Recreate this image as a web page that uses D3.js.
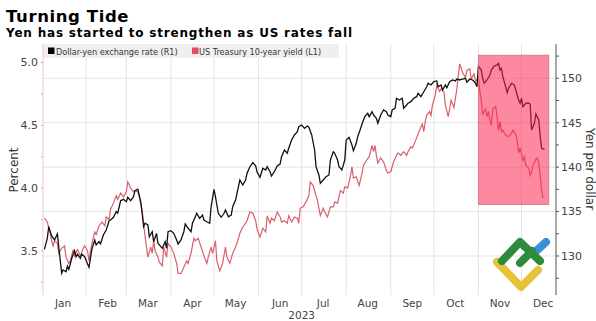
<!DOCTYPE html>
<html>
<head>
<meta charset="utf-8">
<script src="https://cdn.jsdelivr.net/npm/d3@7"></script>
<style>
  body { margin: 0; background: #fff; }
  svg text { font-family: "DejaVu Sans", sans-serif; }
</style>
</head>
<body>
<div id="chart"></div>
<script>
// day of year (0 = Jan 1, 2023) and values
var usdDays = [2,4,5,7,9,11,12,14,15,17,18,19,21,23,24,25,27,28,30,32,33,35,37,38,40,41,43,45,47,48,50,52,53,55,57,59,60,62,64,65,67,69,70,71,72,74,75,77,78,80,81,83,84,86,87,88,90,92,94,95,97,99,100,102,104,105,107,108,110,112,113,115,117,118,120,121,123,125,127,128,130,132,133,135,136,138,140,142,143,145,147,149,150,152,154,156,157,159,160,162,164,166,167,169,171,172,174,176,178,179,181,183,185,186,188,190,191,193,194,196,198,200,201,203,204,206,207,209,211,212,214,216,217,219,220,222,224,225,227,228,230,231,233,234,236,238,240,241,243,244,246,247,249,251,252,254,255,257,259,261,262,264,266,268,269,271,273,275,276,278,279,281,282,284,286,288,289,291,293,295,296,298,300,302,303,304,306,307,308,310,312,313,315,317,318,319,320,321,323,324,325,327,329,330,332,333,334,335,337,339,340,341,343,344,346,347,348,350];
var usdValues = [130.75,131.99,133.30,132.25,131.80,132.48,130.98,128.05,128.42,128.23,128.87,128.50,129.74,130.60,129.92,130.19,129.74,130.22,129.92,129.10,128.73,130.75,131.80,131.24,131.61,131.35,132.36,132.93,133.97,134.05,134.36,134.99,134.81,136.22,136.38,136.11,136.61,136.22,136.67,137.35,137.51,136.11,134.81,133.30,133.68,133.49,132.17,132.73,131.61,132.55,131.43,131.05,130.87,131.61,130.87,132.73,132.85,132.55,131.80,131.35,131.80,132.73,133.60,133.12,132.73,133.68,134.42,134.81,134.24,134.61,134.05,133.86,133.68,135.55,137.51,136.67,134.81,134.36,134.81,135.18,134.42,134.61,135.55,136.30,137.06,138.55,137.99,138.55,139.31,140.05,140.52,140.15,139.45,138.86,139.87,139.68,140.05,139.49,139.00,139.49,140.13,140.35,141.18,141.93,141.56,142.12,143.06,143.62,143.99,144.55,144.74,144.37,144.63,144.49,143.62,141.93,140.05,139.12,138.18,138.55,138.93,139.12,140.80,141.74,141.56,140.80,140.05,139.68,140.80,143.06,143.36,142.49,141.85,142.68,143.43,144.35,145.31,145.68,146.06,145.68,146.24,145.87,145.50,144.94,145.87,146.43,146.24,145.87,145.68,146.43,146.62,147.75,147.56,147.75,146.62,146.99,147.19,147.37,147.75,147.93,148.31,147.93,148.49,149.05,149.44,149.25,149.62,149.70,149.05,149.25,148.68,149.25,148.94,149.62,149.81,149.70,149.92,149.81,149.92,150.00,149.55,149.92,149.81,149.44,149.05,151.38,150.93,150.00,149.44,149.81,150.37,150.93,151.38,151.50,151.69,150.93,151.13,150.18,149.05,148.38,148.87,149.44,149.25,148.68,147.56,147.19,147.75,146.80,147.19,147.19,147.11,144.18,144.94,145.98,145.31,143.43,142.12,142.01];

var yldDays = [2,4,5,6,7,8,9,11,12,14,16,17,19,20,22,23,25,27,29,30,32,33,35,37,38,40,42,44,45,47,48,50,52,53,55,57,59,60,62,64,65,67,68,70,71,72,73,74,76,77,78,79,81,82,84,85,87,88,90,92,94,95,97,99,101,102,104,106,107,109,111,113,115,116,118,119,121,122,124,126,128,129,131,133,135,136,138,140,142,143,145,147,149,150,152,154,156,157,159,160,162,164,166,167,169,171,172,174,176,178,179,180,182,184,186,187,189,190,192,194,196,197,199,201,203,204,206,208,210,211,213,215,216,217,219,221,223,224,226,228,230,231,232,233,234,236,238,240,241,243,245,247,248,250,252,254,255,257,258,260,261,263,265,266,267,268,270,271,272,274,275,277,278,280,281,283,285,287,289,290,291,293,295,296,298,299,301,302,304,305,306,307,309,310,311,312,313,314,316,317,318,319,320,321,323,325,326,328,330,331,332,333,335,336,337,339,340,341,342,344,345,346,347,348,349];
var yldValues = [3.76,3.73,3.68,3.64,3.58,3.54,3.58,3.56,3.48,3.52,3.54,3.45,3.40,3.42,3.51,3.46,3.51,3.46,3.52,3.54,3.50,3.42,3.56,3.65,3.63,3.70,3.73,3.70,3.77,3.75,3.83,3.88,3.94,3.91,3.96,3.93,3.97,4.05,4.00,3.97,3.98,3.97,3.93,3.82,3.72,3.62,3.53,3.45,3.53,3.48,3.58,3.50,3.45,3.41,3.38,3.53,3.45,3.56,3.53,3.48,3.40,3.32,3.32,3.37,3.42,3.40,3.48,3.60,3.58,3.60,3.53,3.46,3.40,3.45,3.53,3.48,3.58,3.42,3.34,3.40,3.53,3.45,3.40,3.48,3.53,3.56,3.64,3.69,3.72,3.74,3.81,3.80,3.74,3.67,3.61,3.68,3.65,3.78,3.72,3.76,3.74,3.81,3.77,3.73,3.74,3.72,3.78,3.73,3.77,3.76,3.72,3.84,3.85,3.89,3.94,4.05,4.02,3.98,3.90,3.78,3.84,3.81,3.77,3.85,3.85,3.89,3.88,3.98,3.96,4.01,4.00,4.10,4.17,4.08,4.09,4.02,4.12,4.18,4.22,4.25,4.34,4.29,4.34,4.26,4.20,4.24,4.21,4.14,4.12,4.13,4.21,4.26,4.28,4.26,4.29,4.26,4.29,4.33,4.32,4.37,4.40,4.46,4.51,4.45,4.53,4.58,4.61,4.58,4.66,4.74,4.82,4.77,4.79,4.77,4.66,4.57,4.70,4.64,4.79,4.90,4.99,4.92,4.88,4.94,4.95,4.87,4.91,4.85,4.88,4.77,4.70,4.59,4.63,4.57,4.61,4.54,4.50,4.63,4.65,4.57,4.46,4.53,4.45,4.46,4.42,4.41,4.42,4.46,4.43,4.37,4.28,4.32,4.22,4.25,4.18,4.16,4.10,4.13,4.18,4.23,4.24,4.20,4.10,3.98,3.92];

var monthLabels = ["Jan","Feb","Mar","Apr","May","Jun","Jul","Aug","Sep","Oct","Nov","Dec"];
var leftTicks = [3.5, 4.0, 4.5, 5.0];
var rightTicks = [130, 135, 140, 145, 150];
// shaded period (Nov 1 to ~Dec 10), in yen terms
var shadeDays = [304, 353];
var shadeYen = [135.8, 152.6];

var W = 596, H = 321;
var svg = d3.select("#chart").append("svg")
  .attr("width", W)
  .attr("height", H);

var jan1 = new Date(2023, 0, 1);
function toDate(d){ return d3.timeDay.offset(jan1, d); }

var x = d3.scaleTime()
  .domain([new Date(2023, 0, 2), new Date(2023, 11, 25)])
  .range([43, 556]);
var yL = d3.scaleLinear().domain([3.148, 5.148]).range([295, 44]);
var yR = d3.scaleLinear().domain([125.61, 153.86]).range([295, 44]);

// title
svg.append("text")
  .attr("x", 6).attr("y", 22)
  .style("font-size", "16.5px").style("font-weight", "bold")
  .style("letter-spacing", "0.6px")
  .style("fill", "#000")
  .text("Turning Tide");
svg.append("text")
  .attr("x", 6).attr("y", 37)
  .style("font-size", "12px").style("font-weight", "bold")
  .style("letter-spacing", "0.8px")
  .style("fill", "#000")
  .text("Yen has started to strengthen as US rates fall");

// gridlines
var months = d3.timeMonth.range(new Date(2023, 1, 1), new Date(2023, 11, 2));
svg.append("g").selectAll("line").data(months).join("line")
  .attr("x1", d => x(d)).attr("x2", d => x(d))
  .attr("y1", 44).attr("y2", 295)
  .attr("stroke", "#e4e4e4").attr("stroke-width", 1);
svg.append("g").selectAll("line").data(rightTicks).join("line")
  .attr("x1", 43).attr("x2", 556)
  .attr("y1", d => yR(d)).attr("y2", d => yR(d))
  .attr("stroke", "#e4e4e4").attr("stroke-width", 1);

// legend
svg.append("rect")
  .attr("x", 43).attr("y", 44).attr("width", 296).attr("height", 14)
  .attr("fill", "#efefef");
svg.append("rect").attr("x", 48).attr("y", 47.5).attr("width", 6.5).attr("height", 6.5).attr("fill", "#000");
svg.append("text").attr("x", 56).attr("y", 54.5)
  .style("font-size", "8.1px").style("fill", "#333")
  .text("Dollar-yen exchange rate (R1)");
svg.append("rect").attr("x", 192).attr("y", 47.5).attr("width", 6.5).attr("height", 6.5).attr("fill", "#e0505e");
svg.append("text").attr("x", 199).attr("y", 54.5)
  .style("font-size", "8.1px").style("fill", "#333")
  .text("US Treasury 10-year yield (L1)");

// lines
var yld = yldDays.map((d, i) => ({date: toDate(d), v: yldValues[i]}));
var usd = usdDays.map((d, i) => ({date: toDate(d), v: usdValues[i]}));

svg.append("path").datum(yld)
  .attr("fill", "none").attr("stroke", "#d9606b").attr("stroke-width", 1.2)
  .attr("d", d3.line().x(d => x(d.date)).y(d => yL(d.v)));
svg.append("path").datum(usd)
  .attr("fill", "none").attr("stroke", "#111").attr("stroke-width", 1.3)
  .attr("d", d3.line().x(d => x(d.date)).y(d => yR(d.v)));

// shaded box over the lines
svg.append("rect")
  .attr("x", x(toDate(shadeDays[0])))
  .attr("y", yR(shadeYen[1]))
  .attr("width", x(toDate(shadeDays[1])) - x(toDate(shadeDays[0])))
  .attr("height", yR(shadeYen[0]) - yR(shadeYen[1]))
  .attr("fill", "rgb(250,40,80)").attr("fill-opacity", 0.55)
  .attr("stroke", "#d9707e").attr("stroke-width", 0.8);

// left axis
var left = svg.append("g").attr("transform", "translate(43,0)");
left.append("line").attr("y1", 44).attr("y2", 295).attr("stroke", "#f2c6cb").attr("stroke-width", 1);
left.selectAll(".minor").data(d3.range(3.25, 5.01, 0.25)).join("line")
  .attr("x1", -2).attr("x2", 0)
  .attr("y1", d => yL(d)).attr("y2", d => yL(d))
  .attr("stroke", "#e8a0a8");
left.selectAll("text").data(leftTicks).join("text")
  .attr("x", -5).attr("y", d => yL(d)).attr("dy", "0.35em")
  .attr("text-anchor", "end")
  .style("font-size", "11px").style("fill", "#444")
  .text(d => d.toFixed(1));
svg.append("text")
  .attr("transform", "translate(18,170) rotate(-90)")
  .attr("text-anchor", "middle")
  .style("font-size", "12px").style("fill", "#333")
  .text("Percent");

// right axis
var right = svg.append("g").attr("transform", "translate(556,0)");
right.append("line").attr("y1", 44).attr("y2", 295).attr("stroke", "#555").attr("stroke-width", 1);
right.selectAll(".minor").data(d3.range(127.5, 153, 2.5)).join("line")
  .attr("x1", 0).attr("x2", 3)
  .attr("y1", d => yR(d)).attr("y2", d => yR(d))
  .attr("stroke", "#555");
right.selectAll("text").data(rightTicks).join("text")
  .attr("x", 5).attr("y", d => yR(d)).attr("dy", "0.35em")
  .style("font-size", "11px").style("fill", "#444")
  .text(d => d);
svg.append("text")
  .attr("transform", "translate(586,169) rotate(90)")
  .attr("text-anchor", "middle")
  .style("font-size", "12px").style("fill", "#333")
  .text("Yen per dollar");

// month labels
svg.append("g").selectAll("text").data(monthLabels).join("text")
  .attr("x", (d, i) => x(new Date(2023, i, 16)))
  .attr("y", 307)
  .attr("text-anchor", "middle")
  .style("font-size", "10.5px").style("fill", "#444")
  .text(d => d);
svg.append("text")
  .attr("x", x(new Date(2023, 6, 1))).attr("y", 319)
  .attr("text-anchor", "middle")
  .style("font-size", "10.5px").style("fill", "#444")
  .text("2023");

// watermark logo
var logo = svg.append("g").attr("fill", "none").attr("stroke-width", 8)
  .attr("stroke-linecap", "round").attr("stroke-linejoin", "round");
logo.append("path").attr("d", "M497,262 L521,287 L538,270").attr("stroke", "#e8c13a");
logo.append("path").attr("d", "M534,253 L546,242").attr("stroke", "#3b8fd8");
logo.append("path").attr("d", "M502,261 L520,242 L540,261").attr("stroke", "#2f8a3c");
logo.append("path").attr("d", "M520,263 L532,251").attr("stroke", "#2f8a3c");
</script>
</body>
</html>
